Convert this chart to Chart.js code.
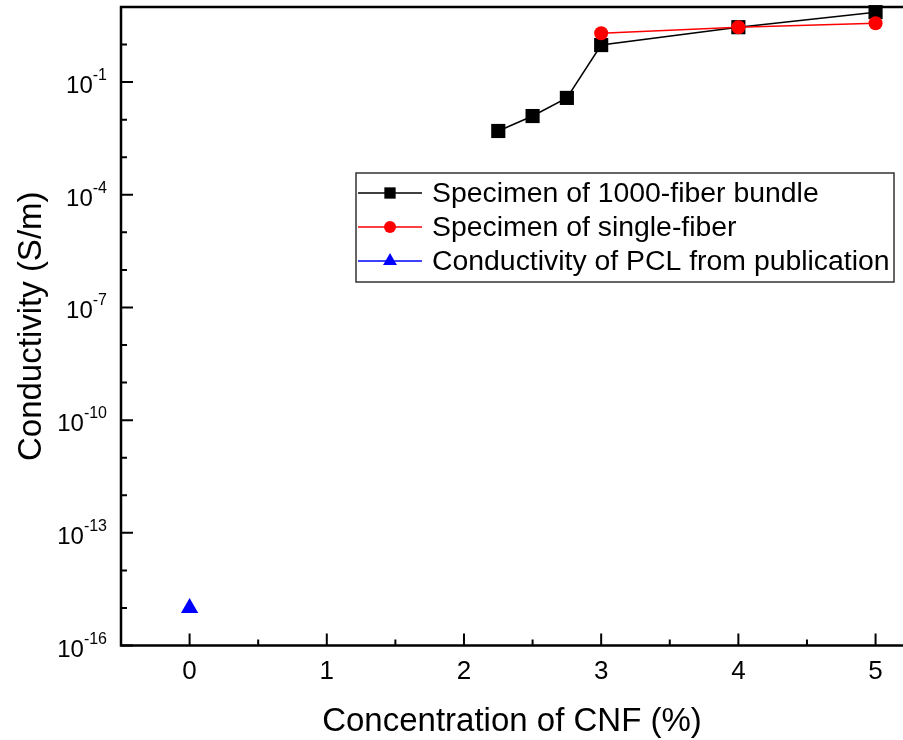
<!DOCTYPE html>
<html>
<head>
<meta charset="utf-8">
<title>Conductivity vs CNF</title>
<script src="https://cdn.jsdelivr.net/npm/chart.js@4.4.1/dist/chart.umd.min.js"></script>
<style>
  html, body { margin: 0; padding: 0; background: #fff; overflow: hidden; }
</style>
</head>
<body>
<canvas id="chart" width="903" height="740"></canvas>
<script>
// values
const seriesNames = ['Specimen of 1000-fiber bundle', 'Specimen of single-fiber', 'Conductivity of PCL from publication'];
const bundleX = [2.25, 2.5, 2.75, 3, 4, 5];
const bundleY = [5.0e-3, 1.25e-2, 3.8e-2, 0.97, 2.9, 7.3];
const singleX = [3, 4, 5];
const singleY = [2.0, 2.9, 3.7];
const pclX = [0];
const pclY = [1e-15];

// axis ticks
const xTicks = [0, 1, 2, 3, 4, 5];
const xMinorTicks = [0.5, 1.5, 2.5, 3.5, 4.5];
const yMajorTicks = [1e-16, 1e-13, 1e-10, 1e-7, 1e-4, 1e-1];
const yMinorTicks = [1e-15, 1e-14, 1e-12, 1e-11, 1e-9, 1e-8, 1e-6, 1e-5, 1e-3, 1e-2, 1e0];

const FONT = "'Liberation Sans', Arial, sans-serif";
const toPoints = (xs, ys) => xs.map((x, i) => ({ x: x, y: ys[i] }));

// frame, inward ticks, superscript y labels and the boxed legend
const decorations = {
  id: 'decorations',
  afterDraw(chart) {
    const ctx = chart.ctx;
    const { left, right, top, bottom } = chart.chartArea;
    const xs = chart.scales.x, ys = chart.scales.y;
    ctx.save();
    ctx.strokeStyle = '#000';
    ctx.lineWidth = 2.5;
    ctx.beginPath();
    ctx.moveTo(right + 2, top); ctx.lineTo(left, top);
    ctx.lineTo(left, bottom); ctx.lineTo(right + 2, bottom);
    ctx.stroke();

    ctx.lineWidth = 2;
    ctx.beginPath();
    xTicks.forEach(v => { const p = xs.getPixelForValue(v); ctx.moveTo(p, bottom); ctx.lineTo(p, bottom - 12); });
    xMinorTicks.forEach(v => { const p = xs.getPixelForValue(v); ctx.moveTo(p, bottom); ctx.lineTo(p, bottom - 6); });
    yMajorTicks.forEach(v => { const p = ys.getPixelForValue(v); ctx.moveTo(left, p); ctx.lineTo(left + 12, p); });
    yMinorTicks.forEach(v => { const p = ys.getPixelForValue(v); ctx.moveTo(left, p); ctx.lineTo(left + 6, p); });
    ctx.stroke();

    // y labels as 10 with a raised exponent
    ctx.fillStyle = '#000';
    ctx.textAlign = 'right';
    ctx.textBaseline = 'alphabetic';
    yMajorTicks.forEach(v => {
      const p = ys.getPixelForValue(v);
      const exp = String(Math.round(Math.log10(v)));
      ctx.font = '16px ' + FONT;
      const ew = ctx.measureText(exp).width;
      ctx.fillText(exp, 107, p - 2);
      ctx.font = '24px ' + FONT;
      ctx.fillText('10', 107 - ew, p + 11);
    });

    // legend
    const bx = 356, by = 173, bw = 538, bh = 109;
    ctx.fillStyle = '#fff';
    ctx.fillRect(bx, by, bw, bh);
    ctx.strokeStyle = '#333';
    ctx.lineWidth = 1.5;
    ctx.strokeRect(bx, by, bw, bh);
    const legendRadius = [8, 6, 8];
    chart.data.datasets.forEach((ds, i) => {
      const y = 193 + i * 34;
      ctx.strokeStyle = ds.borderColor;
      ctx.lineWidth = 1.5;
      ctx.beginPath(); ctx.moveTo(358, y); ctx.lineTo(422, y); ctx.stroke();
      ctx.fillStyle = ds.backgroundColor;
      Chart.helpers.drawPoint(ctx, { pointStyle: ds.pointStyle, radius: legendRadius[i], rotation: 0, borderWidth: 0 }, 390, y);
      ctx.fillStyle = '#000';
      ctx.textAlign = 'left';
      ctx.textBaseline = 'middle';
      ctx.font = '28.4px ' + FONT;
      ctx.fillText(ds.label, 432, y + 1);
    });
    ctx.restore();
  }
};

const ctx = document.getElementById('chart').getContext('2d');
const chart = new Chart(ctx, {
  type: 'scatter',
  data: {
    datasets: [{
      label: seriesNames[0],
      data: toPoints(bundleX, bundleY),
      showLine: true,
      borderColor: '#000',
      backgroundColor: '#000',
      borderWidth: 1.5,
      pointStyle: 'rect',
      pointRadius: 10,
      pointBorderWidth: 0,
      order: 3,
      clip: false
    }, {
      label: seriesNames[1],
      data: toPoints(singleX, singleY),
      showLine: true,
      borderColor: '#ff0000',
      backgroundColor: '#ff0000',
      borderWidth: 1.5,
      pointStyle: 'circle',
      pointRadius: 7,
      pointBorderWidth: 0,
      order: 2,
      clip: false
    }, {
      label: seriesNames[2],
      data: toPoints(pclX, pclY),
      showLine: true,
      borderColor: '#0000ff',
      backgroundColor: '#0000ff',
      borderWidth: 1.5,
      pointStyle: 'triangle',
      pointRadius: 10,
      pointBorderWidth: 0,
      order: 1,
      clip: false
    }]
  },
  options: {
    responsive: false,
    animation: false,
    events: [],
    layout: { autoPadding: false, padding: { top: 7, left: 0, right: 0, bottom: 0 } },
    plugins: {
      legend: { display: false },
      tooltip: { enabled: false }
    },
    scales: {
      x: {
        type: 'linear',
        min: -0.5,
        max: 5.2,
        grid: { display: false },
        border: { display: false },
        afterBuildTicks: s => { s.ticks = xTicks.map(v => ({ value: v })); },
        afterFit: s => { s.height = 94.5; s.paddingLeft = 0; s.paddingRight = 0; },
        ticks: { color: '#000', font: { family: FONT, size: 26 }, padding: 3, maxRotation: 0, autoSkip: false },
        title: {
          display: true,
          text: 'Concentration of CNF (%)',
          color: '#000',
          font: { family: FONT, size: 33, lineHeight: 1 },
          padding: { top: 0, bottom: 2 }
        }
      },
      y: {
        type: 'logarithmic',
        min: 1e-16,
        max: 10,
        grid: { display: false },
        border: { display: false },
        afterBuildTicks: s => { s.ticks = yMajorTicks.concat(yMinorTicks).sort((a, b) => a - b).map(v => ({ value: v })); },
        afterFit: s => { s.width = 121; s.paddingTop = 0; s.paddingBottom = 0; },
        ticks: { display: false },
        title: {
          display: true,
          text: 'Conductivity (S/m)',
          color: '#000',
          font: { family: FONT, size: 33, lineHeight: 1 },
          padding: { top: 15.5, bottom: 0 }
        }
      }
    }
  },
  plugins: [decorations]
});
</script>
</body>
</html>
